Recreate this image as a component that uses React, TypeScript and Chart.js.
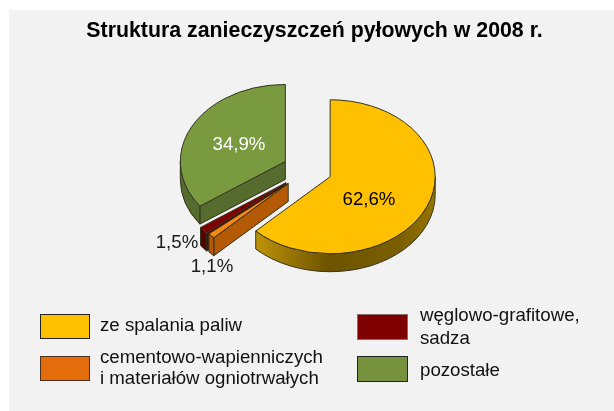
import React, { useEffect, useRef } from "react";
import { Chart, registerables } from "chart.js";

Chart.register(...registerables);

const titleText = "Struktura zanieczyszczeń pyłowych w 2008 r.";
const categories = ["ze spalania paliw", "cementowo-wapienniczych i materiałów ogniotrwałych", "węglowo-grafitowe, sadza", "pozostałe"];
const values = [62.6, 1.1, 1.5, 34.9];
const legendLines = [["ze spalania paliw"], ["cementowo-wapienniczych", "i materiałów ogniotrwałych"], ["węglowo-grafitowe,", "sadza"], ["pozostałe"]];
const topColors = ["#ffc000", "#f58a10", "#7f0000", "#7a9a40"];
const legendColors = ["#ffc000", "#e46c0a", "#7f0000", "#76923c"];
const wallColors = ["#8a6a00", "#b45a04", "#560000", "#566b2e"];
const explode = [24, 27, 28, 25.5];

const CANVAS_LEFT = 15;
const PIE_SHIFT_X = -6.5;
const SQUASH = 0.733;
const DEPTH = 18;
const FONT = '"Liberation Sans", Arial, sans-serif';
const labelPositions = [[369, 200], [212, 267], [177, 243], [239, 145]];
const labelColors = ["#000000", "#1a1a1a", "#1a1a1a", "#ffffff"];
const legendBoxes = [
  { x: 40, y: 314, w: 50, h: 25, tx: 100, ty: [326], border: "#222222" },
  { x: 40, y: 356, w: 50, h: 25, tx: 100, ty: [358, 379], border: "#4a3020" },
  { x: 357, y: 314, w: 51, h: 26, tx: 420, ty: [316, 339], border: "#8a6a6a" },
  { x: 357, y: 356, w: 51, h: 26, tx: 420, ty: [371], border: "#222222" },
];

const sliceCenter = (arc: any) => {
  const p = arc.getProps(["x", "y", "startAngle", "endAngle", "outerRadius"], true);
  const off = arc.options.offset || 0;
  const mid = (p.startAngle + p.endAngle) / 2;
  return { ...p, sx: p.x + PIE_SHIFT_X + Math.cos(mid) * off, sy: p.y + Math.sin(mid) * off * SQUASH };
};

const pie3d = {
  id: "pie3d",
  beforeDatasetsDraw(chart: any) {
    const ctx = chart.ctx as CanvasRenderingContext2D;
    const arcs = chart.getDatasetMeta(0).data;
    const order = [3, 2, 1, 0];
    for (const i of order) {
      const c = sliceCenter(arcs[i]);
      const R = c.outerRadius;
      const s = c.startAngle;
      const e = c.endAngle;
      ctx.save();
      ctx.lineWidth = 1;
      ctx.strokeStyle = "#33331f";
      ctx.lineJoin = "round";
      const px = (a: number) => c.sx + Math.cos(a) * R;
      const py = (a: number) => c.sy + Math.sin(a) * R * SQUASH;

      if (-Math.cos(s) > 0) {
        ctx.beginPath();
        ctx.moveTo(c.sx, c.sy);
        ctx.lineTo(px(s), py(s));
        ctx.lineTo(px(s), py(s) + DEPTH);
        ctx.lineTo(c.sx, c.sy + DEPTH);
        ctx.closePath();
        ctx.fillStyle = wallColors[i];
        ctx.fill();
        ctx.stroke();
      }

      const a0 = Math.max(s, 0);
      const a1 = Math.min(e, Math.PI);
      if (a1 > a0) {
        ctx.beginPath();
        ctx.ellipse(c.sx, c.sy, R, R * SQUASH, 0, a0, a1);
        ctx.ellipse(c.sx, c.sy + DEPTH, R, R * SQUASH, 0, a1, a0, true);
        ctx.closePath();
        if (i === 0) {
          const g = ctx.createLinearGradient(c.sx - R * 0.7, 0, c.sx + R, 0);
          g.addColorStop(0, "#bd9206");
          g.addColorStop(0.4, "#6e5400");
          g.addColorStop(0.8, "#7a5e00");
          g.addColorStop(1, "#977400");
          ctx.fillStyle = g;
        } else {
          ctx.fillStyle = wallColors[i];
        }
        ctx.fill();
        ctx.stroke();
      }

      ctx.beginPath();
      ctx.moveTo(c.sx, c.sy);
      ctx.ellipse(c.sx, c.sy, R, R * SQUASH, 0, s, e);
      ctx.closePath();
      ctx.fillStyle = topColors[i];
      ctx.fill();
      ctx.stroke();
      ctx.restore();
    }
    return false;
  },
  afterDraw(chart: any) {
    const ctx = chart.ctx as CanvasRenderingContext2D;
    ctx.save();
    ctx.font = `18.67px ${FONT}`;
    ctx.textAlign = "center";
    ctx.textBaseline = "middle";
    values.forEach((v, i) => {
      ctx.fillStyle = labelColors[i];
      ctx.fillText(v.toFixed(1).replace(".", ",") + "%", labelPositions[i][0] - CANVAS_LEFT, labelPositions[i][1]);
    });
    ctx.textAlign = "left";
    legendBoxes.forEach((b, i) => {
      ctx.fillStyle = legendColors[i];
      ctx.strokeStyle = b.border;
      ctx.lineWidth = 1;
      ctx.fillRect(b.x - CANVAS_LEFT, b.y, b.w, b.h);
      ctx.strokeRect(b.x - CANVAS_LEFT + 0.5, b.y + 0.5, b.w - 1, b.h - 1);
      ctx.fillStyle = "#111111";
      legendLines[i].forEach((line, j) => ctx.fillText(line, b.tx - CANVAS_LEFT, b.ty[j]));
    });
    ctx.restore();
  },
};

export default function App() {
  const ref = useRef<HTMLCanvasElement>(null);
  useEffect(() => {
    const chart = new Chart(ref.current!, {
      type: "pie",
      data: {
        labels: categories,
        datasets: [{ data: values, backgroundColor: topColors, offset: explode, borderWidth: 0 }],
      },
      options: {
        responsive: false,
        animation: false,
        radius: 105,
        layout: { padding: { left: 0, right: 0, top: 0, bottom: 114.6 } },
        plugins: {
          legend: { display: false },
          tooltip: { enabled: false },
          title: {
            display: true,
            text: titleText,
            color: "#000000",
            font: { family: FONT, size: 21.33, weight: "bold", lineHeight: 1.2 },
            padding: { top: 18, bottom: 0 },
          },
        },
      } as any,
      plugins: [pie3d],
    });
    return () => chart.destroy();
  }, []);
  return (
    <div style={{ position: "fixed", left: 0, top: 0, width: 614, height: 411, background: "#ffffff", overflow: "hidden" }}>
      <div style={{ position: "absolute", left: 9, top: 10, width: 605, height: 401, background: "#f2f2f2" }} />
      <canvas ref={ref} width={599} height={411} style={{ position: "absolute", left: CANVAS_LEFT, top: 0, width: 599, height: 411 }} />
    </div>
  );
}
